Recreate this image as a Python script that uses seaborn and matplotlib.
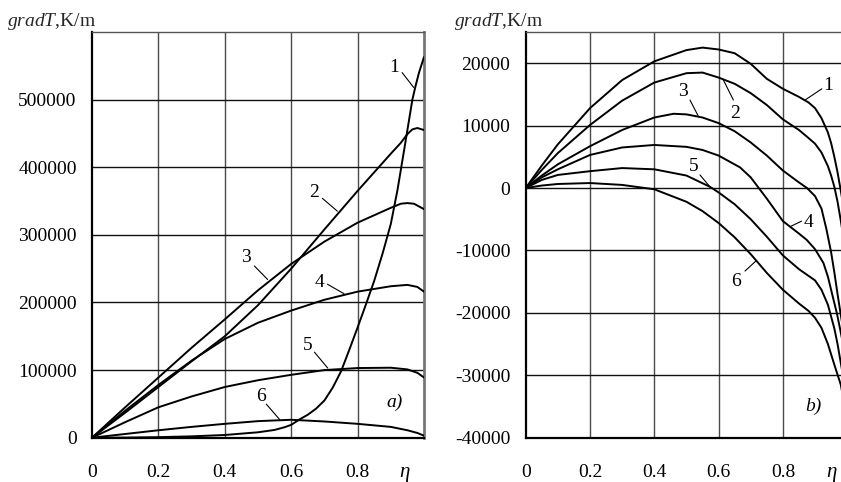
import numpy as np
import pandas as pd
import matplotlib
matplotlib.use("Agg")
import matplotlib.pyplot as plt
import seaborn as sns

# ---- panel a) : temperature gradient, large values ----
a_eta1 = [0, 0.1, 0.2, 0.3, 0.4, 0.5, 0.55, 0.58, 0.6, 0.625, 0.65, 0.675, 0.7, 0.725, 0.75, 0.775,
          0.8, 0.825, 0.85, 0.875, 0.9, 0.92, 0.94, 0.955, 0.965, 0.975, 0.985, 1.0]
a_grad1 = [0, 200, 800, 2000, 4000, 8000, 11500, 15500, 19000, 27000, 34000, 43000, 55000, 74000,
           98000, 130000, 163000, 197000, 232000, 272000, 316000, 366000, 425000, 470000, 500000,
           521000, 540000, 563000]
a_eta2 = [0, 0.1, 0.2, 0.3, 0.4, 0.5, 0.6, 0.7, 0.8, 0.9, 0.93, 0.95, 0.965, 0.98, 1.0]
a_grad2 = [0, 37000, 75000, 113000, 150000, 196000, 250000, 308000, 365000, 420000, 436000, 449000,
           456000, 458000, 455000]
a_eta3 = [0, 0.1, 0.2, 0.3, 0.4, 0.5, 0.6, 0.7, 0.8, 0.9, 0.93, 0.95, 0.97, 1.0]
a_grad3 = [0, 45000, 89000, 133000, 175000, 218000, 257000, 290000, 318000, 340000, 346000, 347000,
           346000, 338000]
a_eta4 = [0, 0.1, 0.2, 0.3, 0.4, 0.5, 0.6, 0.7, 0.8, 0.9, 0.95, 0.98, 1.0]
a_grad4 = [0, 40000, 78000, 114000, 146000, 170000, 188000, 204000, 216000, 224000, 226000, 223000, 216000]
a_eta5 = [0, 0.1, 0.2, 0.3, 0.4, 0.5, 0.6, 0.7, 0.8, 0.9, 0.95, 0.98, 1.0]
a_grad5 = [0, 23000, 45000, 61000, 75000, 85000, 93000, 100000, 103000, 103500, 101000, 96000, 89000]
a_eta6 = [0, 0.1, 0.2, 0.3, 0.4, 0.5, 0.6, 0.7, 0.8, 0.9, 0.95, 0.98, 1.0]
a_grad6 = [0, 5500, 11000, 16000, 20500, 24500, 26500, 24000, 20500, 16000, 11000, 7000, 3000]

# ---- panel b) : temperature gradient, small values ----
b_eta1 = [0, 0.05, 0.1, 0.2, 0.3, 0.4, 0.5, 0.55, 0.6, 0.65, 0.7, 0.75, 0.8, 0.85, 0.88, 0.9, 0.92,
          0.94, 0.95, 0.96, 0.97, 0.98, 0.99, 1.0]
b_grad1 = [0, 3600, 7000, 12800, 17300, 20300, 22100, 22500, 22200, 21600, 19900, 17500, 15900, 14600,
           13700, 12800, 11200, 8900, 7200, 5000, 2500, -400, -3500, -7000]
b_eta2 = [0, 0.05, 0.1, 0.2, 0.3, 0.4, 0.5, 0.55, 0.6, 0.65, 0.7, 0.75, 0.8, 0.85, 0.88, 0.9, 0.92,
          0.94, 0.95, 0.96, 0.97, 0.98, 0.99, 1.0]
b_grad2 = [0, 2900, 5600, 10100, 14000, 16900, 18400, 18500, 17700, 16700, 15200, 13300, 11000, 9300,
           8000, 7100, 5700, 3500, 2000, 200, -2200, -5200, -8500, -12000]
b_eta3 = [0, 0.05, 0.1, 0.2, 0.3, 0.4, 0.46, 0.5, 0.55, 0.6, 0.65, 0.7, 0.75, 0.8, 0.85, 0.875, 0.9,
          0.92, 0.935, 0.95, 0.96, 0.97, 0.98, 0.99, 1.0]
b_grad3 = [0, 2000, 3800, 6700, 9300, 11300, 11900, 11800, 11300, 10400, 9100, 7300, 5200, 2800, 900, 0,
           -1300, -3300, -6500, -10300, -13500, -17000, -20300, -23500, -27000]
b_eta4 = [0, 0.05, 0.1, 0.2, 0.3, 0.4, 0.5, 0.55, 0.6, 0.667, 0.7, 0.75, 0.8, 0.85, 0.874, 0.9, 0.926,
          0.94, 0.957, 0.968, 0.978, 0.99, 1.0]
b_grad4 = [0, 1700, 3000, 5300, 6500, 6900, 6600, 6100, 5200, 3300, 1700, -1700, -5300, -7300, -8300,
           -9800, -12000, -14200, -17800, -20100, -22600, -25800, -28500]
b_eta5 = [0, 0.05, 0.1, 0.2, 0.3, 0.4, 0.5, 0.573, 0.6, 0.65, 0.7, 0.75, 0.8, 0.85, 0.9, 0.92, 0.94,
          0.96, 0.97, 0.98, 0.99, 1.0]
b_grad5 = [0, 1300, 2100, 2700, 3200, 3000, 2000, 200, -700, -2600, -5000, -7800, -10800, -13000,
           -14800, -16300, -18700, -22500, -25000, -28000, -31000, -34000]
b_eta6 = [0, 0.05, 0.1, 0.2, 0.3, 0.4, 0.5, 0.55, 0.6, 0.65, 0.7, 0.75, 0.8, 0.85, 0.88, 0.9, 0.92,
          0.94, 0.96, 0.98, 1.0]
b_grad6 = [0, 400, 650, 800, 500, -200, -2200, -3700, -5600, -7900, -10600, -13600, -16300, -18500,
           -19700, -20800, -22400, -25000, -28300, -31500, -37000]

a_yticks = [0, 100000, 200000, 300000, 400000, 500000]
b_yticks = [-40000, -30000, -20000, -10000, 0, 10000, 20000]
x_ticks = [0, 0.2, 0.4, 0.6, 0.8]
x_ticklabels = ["0", "0.2", "0.4", "0.6", "0.8"]

# curve number: (label position, leader start, leader end)
a_labels = {
    "1": ((0.909, 548000), (0.934, 540000), (0.969, 518000)),
    "2": ((0.669, 362000), (0.694, 354000), (0.739, 335000)),
    "3": ((0.464, 266000), (0.489, 254000), (0.529, 234000)),
    "4": ((0.684, 229000), (0.709, 227000), (0.759, 213000)),
    "5": ((0.650, 136000), (0.670, 126500), (0.710, 103000)),
    "6": ((0.510, 60300), (0.525, 49600), (0.565, 27000)),
}
b_labels = {
    "1": ((0.941, 16500), (0.921, 15900), (0.869, 14100)),
    "2": ((0.651, 12000), (0.646, 14100), (0.615, 17300)),
    "3": ((0.490, 15400), (0.511, 14100), (0.537, 11500)),
    "4": ((0.879, -5600), (0.858, -5300), (0.822, -6200)),
    "5": ((0.521, 3450), (0.542, 2100), (0.573, 200)),
    "6": ((0.654, -14900), (0.682, -13300), (0.718, -11600)),
}

sns.set_theme(style="white")
plt.rcParams["font.family"] = ["Liberation Serif", "DejaVu Serif"]
plt.rcParams["mathtext.fontset"] = "custom"
plt.rcParams["mathtext.it"] = "Liberation Serif:italic"
plt.rcParams["mathtext.rm"] = "Liberation Serif"

FS = 14


def long_frame(etas, grads):
    rows = []
    for k, (e, g) in enumerate(zip(etas, grads), start=1):
        rows.append(pd.DataFrame({"eta": e, "grad": g, "curve": str(k)}))
    return pd.concat(rows, ignore_index=True)


df_a = long_frame([a_eta1, a_eta2, a_eta3, a_eta4, a_eta5, a_eta6],
                  [a_grad1, a_grad2, a_grad3, a_grad4, a_grad5, a_grad6])
df_b = long_frame([b_eta1, b_eta2, b_eta3, b_eta4, b_eta5, b_eta6],
                  [b_grad1, b_grad2, b_grad3, b_grad4, b_grad5, b_grad6])

W, H = 841, 482
fig = plt.figure(figsize=(W / 100, H / 100), dpi=100)
fig.patch.set_facecolor("white")

ax_a = fig.add_axes([92 / W, 1 - 437.7 / H, 332 / W, 405.7 / H])
ax_b = fig.add_axes([525.7 / W, 1 - 437.7 / H, 321.5 / W, 405.7 / H])


def style_axes(ax, ylim, yticks, eta_x, tag, tag_xy):
    ax.set_xlim(0, 1.0)
    ax.set_ylim(*ylim)
    ax.set_xticks(x_ticks)
    ax.set_xticklabels(x_ticklabels)
    ax.set_yticks(yticks)
    ax.set_yticklabels([str(v) for v in yticks])
    ax.tick_params(axis="both", length=0, labelsize=FS, colors="black")
    ax.tick_params(axis="x", pad=19)
    ax.tick_params(axis="y", pad=11)
    ax.set_xlabel("")
    ax.set_ylabel("")
    for v in x_ticks[1:]:
        ax.axvline(v, color="#4a4a4a", lw=1.0, zorder=1)
    for v in yticks:
        ax.axhline(v, color="#111111", lw=1.0, zorder=1)
    ax.spines["left"].set_color("black")
    ax.spines["left"].set_linewidth(1.6)
    ax.spines["bottom"].set_color("black")
    ax.spines["bottom"].set_linewidth(1.6)
    ax.spines["top"].set_color("#555555")
    ax.spines["top"].set_linewidth(1.0)
    ax.spines["right"].set_color("#777777")
    ax.spines["right"].set_linewidth(2.0)
    ax.annotate("η", xy=(eta_x, 0), xycoords=("data", "axes fraction"),
                xytext=(0, -25), textcoords="offset pixels", ha="center", va="top",
                fontsize=FS + 1, fontstyle="italic", color="black")
    ax.text(tag_xy[0], tag_xy[1], tag, fontsize=FS, fontstyle="italic",
            ha="center", va="center", color="black")


def draw(ax, df, labels):
    sns.lineplot(data=df, x="eta", y="grad", units="curve", estimator=None,
                 color="black", lw=1.4, sort=False, legend=False, ax=ax, zorder=3,
                 solid_joinstyle="round", solid_capstyle="round")
    for name, (txt, p0, p1) in labels.items():
        ax.text(txt[0], txt[1], name, fontsize=FS, ha="center", va="center",
                color="black", zorder=4)
        ax.annotate("", xy=p1, xytext=p0,
                    arrowprops=dict(arrowstyle="-", lw=0.8, color="black",
                                    shrinkA=0, shrinkB=0), zorder=4)


draw(ax_a, df_a, a_labels)
style_axes(ax_a, (0, 600000), a_yticks, 0.94, "a)", (0.91, 53000))

draw(ax_b, df_b, b_labels)
style_axes(ax_b, (-40000, 25000), b_yticks, 0.95, "b)", (0.895, -34900))

fig.text(7 / W, 1 - 21 / H, r"$\mathit{gradT}$,K/m", fontsize=FS, ha="left", va="center")
fig.text(454 / W, 1 - 21 / H, r"$\mathit{gradT}$,K/m", fontsize=FS, ha="left", va="center")

fig.savefig("out.png", dpi=100, facecolor="white")
